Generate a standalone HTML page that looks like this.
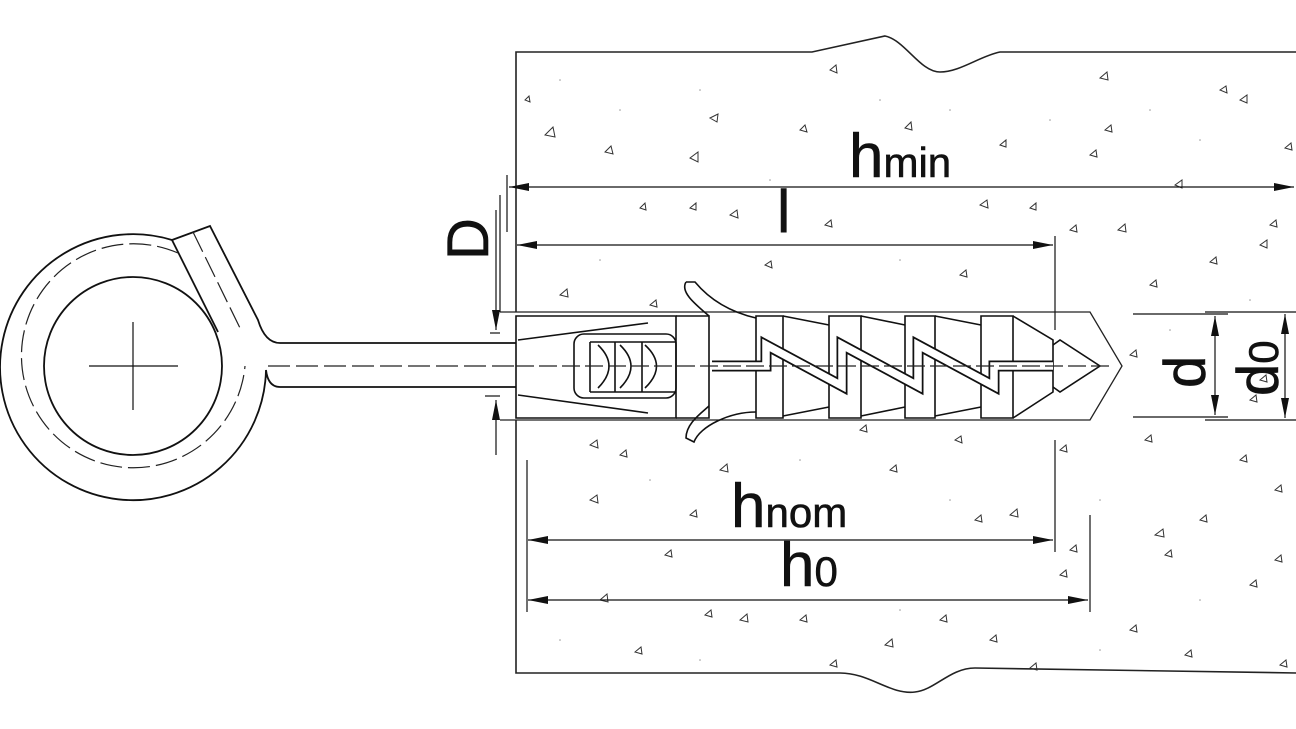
<!DOCTYPE html>
<html><head><meta charset="utf-8"><style>
html,body{margin:0;padding:0;background:#fff;}
svg{display:block;}
text{font-family:"Liberation Sans","DejaVu Sans",sans-serif;fill:#111;stroke:#111;stroke-width:0.6;}
</style></head><body>
<svg width="1296" height="729" viewBox="0 0 1296 729" xmlns="http://www.w3.org/2000/svg">
<defs>
<marker id="a" viewBox="0 0 20 8" refX="20" refY="4" markerWidth="20" markerHeight="8" markerUnits="userSpaceOnUse" orient="auto-start-reverse"><path d="M0,0 L20,4 L0,8 Z" fill="#111"/></marker>
</defs>
<g fill="none" stroke="#222" stroke-width="1.6">
<path d="M1296,52 L1000,52 C980,56 960,72 940,72 C920,72 905,40 885,36 L812,52 L516,52 L516,312"/>
<path d="M516,420 L516,673 L840,673 C870,673 890,695 915,692 C935,690 950,668 975,668 L1296,673"/>
<path d="M500,312 L1090,312 L1122,366 L1090,420 L500,420" stroke-width="1.3"/>
</g>
<g fill="none" stroke="#333" stroke-width="1">
<path d="M545,135l8,-8l2,10z M605,152l6,-6l2,8z M690,158l8,-6l0,10z M710,118l8,-4l-1,8z M800,130l5,-5l2,7z M830,70l6,-5l1,8z M905,128l6,-6l1,8z M1000,145l6,-5l0,7z M1100,78l7,-6l1,8z M1240,100l7,-5l0,8z M1220,90l6,-4l1,7z M1105,130l6,-5l1,7z M1090,155l6,-5l1,7z M1285,148l6,-5l1,7z M1175,185l7,-5l0,8z M980,205l7,-5l1,8z M1030,208l6,-5l0,7z M1070,230l6,-5l1,7z M1118,230l7,-6l1,8z M1260,245l7,-5l0,8z M960,275l6,-5l1,7z M765,265l6,-4l1,7z M690,208l6,-5l0,7z M730,215l7,-5l1,8z M825,225l6,-5l1,7z M640,208l5,-5l1,7z M560,295l7,-6l1,8z M650,305l6,-5l1,7z M1150,285l6,-5l1,7z M1210,262l6,-5l1,7z M1270,225l6,-5l1,7z M1130,355l6,-5l1,7z M590,445l7,-5l1,8z M620,455l6,-5l1,7z M720,470l7,-6l1,8z M860,430l6,-5l1,7z M955,440l6,-4l1,7z M1060,450l6,-5l1,7z M1145,440l6,-5l1,7z M1240,460l6,-5l1,7z M1275,490l6,-5l1,7z M590,500l7,-5l1,8z M690,515l6,-5l1,7z M890,470l6,-5l1,7z M975,520l6,-5l1,7z M1010,515l7,-6l1,8z M1155,535l8,-6l1,8z M1200,520l6,-5l1,7z M1165,555l6,-5l1,7z M1250,585l6,-5l1,7z M1275,560l6,-5l1,7z M1070,550l6,-5l1,7z M1060,575l6,-5l1,7z M600,600l7,-6l1,8z M665,555l6,-5l1,7z M740,620l7,-6l1,8z M705,615l6,-5l1,7z M800,620l6,-5l1,7z M885,645l7,-6l1,8z M940,620l6,-5l1,7z M990,640l6,-5l1,7z M1030,668l6,-5l1,7z M1130,630l6,-5l1,7z M1185,655l6,-5l1,7z M1280,665l6,-5l1,7z M830,665l6,-5l1,7z M635,652l6,-5l1,7z M525,100l4,-4l1,6z M1260,380l6,-5l1,7z M1250,400l6,-5l1,7z"/>
</g>
<g fill="#999">
<circle cx="560" cy="80" r="0.8"/><circle cx="620" cy="110" r="0.8"/><circle cx="700" cy="90" r="0.8"/><circle cx="770" cy="180" r="0.8"/><circle cx="880" cy="100" r="0.8"/><circle cx="950" cy="110" r="0.8"/><circle cx="1050" cy="120" r="0.8"/><circle cx="1150" cy="110" r="0.8"/><circle cx="1200" cy="140" r="0.8"/><circle cx="600" cy="260" r="0.8"/><circle cx="900" cy="260" r="0.8"/><circle cx="1170" cy="330" r="0.8"/><circle cx="1250" cy="300" r="0.8"/><circle cx="650" cy="480" r="0.8"/><circle cx="800" cy="460" r="0.8"/><circle cx="950" cy="500" r="0.8"/><circle cx="1100" cy="500" r="0.8"/><circle cx="1200" cy="600" r="0.8"/><circle cx="900" cy="610" r="0.8"/><circle cx="560" cy="640" r="0.8"/><circle cx="700" cy="660" r="0.8"/><circle cx="1100" cy="650" r="0.8"/>
</g>
<!-- ring hook -->
<g fill="none" stroke="#111" stroke-width="1.8">
<path d="M172,240 A133,133 0 1 0 266,370 Q268,387 280,387 L516,387"/>
<path d="M280,343 L516,343"/>
<path d="M172,240 L210,226 L258,320 Q265,343 280,343"/>
<path d="M172,240 L218,332"/>
<circle cx="133" cy="366" r="89"/>
</g>
<g fill="none" stroke="#222" stroke-width="1.2" stroke-dasharray="22,6">
<path d="M178,253 A112,112 0 1 0 245,366"/>
<path d="M193,232 L240,328"/>
<line x1="268" y1="366" x2="516" y2="366"/>
</g>
<g stroke="#111" stroke-width="1.2">
<line x1="89" y1="366" x2="178" y2="366"/><line x1="133" y1="322" x2="133" y2="410"/>
</g>
<!-- anchor -->
<g fill="none" stroke="#111" stroke-width="1.6">
<path d="M516,316 L676,316 L676,418 L516,418 Z"/>
<path d="M518,340 L648,323 M518,395 L648,413"/>
<rect x="574" y="334" width="102" height="64" rx="10"/>
<path d="M590,342 L676,342 M590,392 L676,392 M590,342 L590,392 M615,342 L615,392 M642,342 L642,392"/>
<path d="M598,345 Q620,366 598,388 M620,345 Q642,366 620,388 M645,345 Q668,366 645,388"/>
<path d="M676,316 L709,316 L709,418 L676,418"/>
<path d="M686,282 L695,282 C710,300 730,312 756,318 M686,282 C680,292 695,304 709,316"/>
<path d="M709,406 C700,414 686,424 686,438 L694,442 C700,426 730,412 756,412"/>
<path d="M756,316 L783,316 L783,418 L756,418 Z"/>
<path d="M783,316 L829,325 M783,416 L829,407"/>
<path d="M829,316 L861,316 L861,418 L829,418 Z"/>
<path d="M861,316 L905,325 M861,416 L905,407"/>
<path d="M905,316 L935,316 L935,418 L905,418 Z"/>
<path d="M935,316 L981,325 M935,416 L981,407"/>
<path d="M981,316 L1013,316 L1013,418 L981,418 Z"/>
<path d="M1013,316 L1053,340 L1053,392 L1013,418"/>
<path d="M1053,345 L1060,340 L1100,366 L1060,392 L1053,387"/>
</g>
<path d="M712,366 L766,366 L766,345 L842,386 L842,345 L918,386 L918,345 L994,386 L994,366 L1053,366" fill="none" stroke="#111" stroke-width="11" stroke-linejoin="miter"/>
<path d="M712,366 L766,366 L766,345 L842,386 L842,345 L918,386 L918,345 L994,386 L994,366 L1053,366" fill="none" stroke="#fff" stroke-width="7.5" stroke-linejoin="miter"/>
<g fill="none" stroke="#222" stroke-width="1.2" stroke-dasharray="18,5">
<line x1="516" y1="366" x2="1110" y2="366"/>
</g>
<!-- dimension lines -->
<g stroke="#111" stroke-width="1.2" fill="none">
<line x1="507" y1="175" x2="507" y2="232"/>
<line x1="500" y1="195" x2="500" y2="312"/>
<line x1="509" y1="187" x2="1294" y2="187" marker-start="url(#a)" marker-end="url(#a)"/>
<line x1="517" y1="245" x2="1053" y2="245" marker-start="url(#a)" marker-end="url(#a)"/>
<line x1="1055" y1="236" x2="1055" y2="330"/>
<line x1="496" y1="210" x2="496" y2="330" marker-end="url(#a)"/>
<line x1="496" y1="455" x2="496" y2="400" marker-end="url(#a)"/>
<line x1="485" y1="396" x2="500" y2="396"/><line x1="490" y1="333" x2="500" y2="333"/>
<line x1="527" y1="460" x2="527" y2="612"/>
<line x1="1055" y1="440" x2="1055" y2="552"/>
<line x1="1090" y1="515" x2="1090" y2="612"/>
<line x1="528" y1="540" x2="1053" y2="540" marker-start="url(#a)" marker-end="url(#a)"/>
<line x1="528" y1="600" x2="1088" y2="600" marker-start="url(#a)" marker-end="url(#a)"/>
<line x1="1133" y1="314" x2="1228" y2="314"/><line x1="1133" y1="417" x2="1228" y2="417"/>
<line x1="1205" y1="312" x2="1296" y2="312"/><line x1="1205" y1="420" x2="1296" y2="420"/>
<line x1="1215" y1="316" x2="1215" y2="415" marker-start="url(#a)" marker-end="url(#a)"/>
<line x1="1285" y1="314" x2="1285" y2="418" marker-start="url(#a)" marker-end="url(#a)"/>
</g>
<text x="849" y="177" font-size="62">h<tspan font-size="42">min</tspan></text>
<text x="777" y="232" font-size="60">l</text>
<text x="731" y="527" font-size="62">h<tspan font-size="42">nom</tspan></text>
<text x="780" y="586" font-size="62">h<tspan font-size="42">0</tspan></text>
<text transform="translate(488,260) rotate(-90)" font-size="58">D</text>
<text transform="translate(1205,388) rotate(-90)" font-size="58">d</text>
<text transform="translate(1278,396) rotate(-90)" font-size="58">d<tspan font-size="42">0</tspan></text>
</svg>
</body></html>
